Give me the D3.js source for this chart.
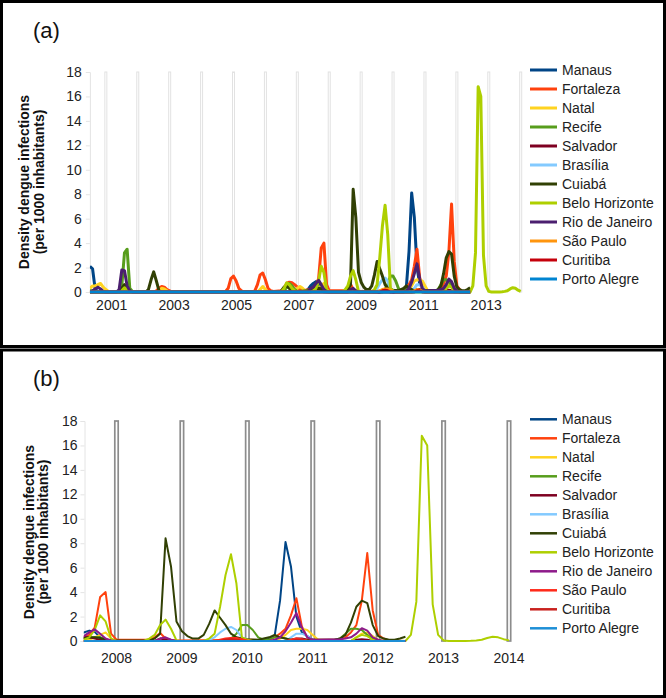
<!DOCTYPE html>
<html><head><meta charset="utf-8">
<script src="https://cdn.jsdelivr.net/npm/d3@7"></script>
<style>
body{margin:0;background:#fff}
svg{display:block}
text{font-family:"Liberation Sans",Arial,sans-serif}
</style>
</head><body>
<svg id="c" width="666" height="698"></svg>
<script>
// ---------------- DATA ----------------
// month index: 0 = first yearly marker (2001); series begin at month -6
const cities = ["Manaus","Fortaleza","Natal","Recife","Salvador","Brasília","Cuiabá","Belo Horizonte","Rio de Janeiro","São Paulo","Curitiba","Porto Alegre"];
const colorsA = ["#004586","#ff420e","#ffd320","#579d1c","#7e0021","#83caff","#314004","#aecf00","#4b1f6f","#ff950e","#c5000b","#0084d1"];
const colorsB = ["#004586","#ff420e","#ffd320","#579d1c","#7e0021","#83caff","#314004","#aecf00","#8e1a8a","#ff2a1a","#c9211e","#1e8fd6"];
const yTicks = [0,2,4,6,8,10,12,14,16,18];
const yearLabelsA = ["2001","2003","2005","2007","2009","2011","2013"];
const yearLabelsB = ["2008","2009","2010","2011","2012","2013","2014"];
const markerYearsA = [2001,2002,2003,2004,2005,2006,2007,2008,2009,2010,2011,2012,2013,2014];
const markerYearsB = [2008,2009,2010,2011,2012,2013,2014];
const markerValue = 18;

const manaus = [[-6,2.1],[-5,1.9],[-4,0.2],[-3,0.05],[-2,0],[74,0],[75,0.1],[76,0.2],[77,0.5],[78,0.7],[79,0.85],[80,0.75],[81,0.3],[82,0.1],[83,0],[111,0],[112,0.2],[113,0.4],[114,3.3],[115,8.1],[116,6.1],[117,2.0],[118,0.7],[119,0.4],[120,0.1],[121,0],[137,0]];
const fortaleza = [[-6,0],[18,0],[19,0.1],[20,0.3],[21,0.45],[22,0.4],[23,0.2],[24,0.1],[25,0],[44,0],[45,0.05],[46,0.3],[47,1.1],[48,1.3],[49,0.9],[50,0.3],[51,0.1],[52,0],[55,0],[56,0.1],[57,0.6],[58,1.4],[59,1.55],[60,1.0],[61,0.3],[62,0.1],[63,0.05],[66,0.1],[67,0.3],[68,0.7],[69,0.8],[70,0.75],[71,0.6],[72,0.4],[73,0.2],[74,0.1],[77,0.2],[78,0.3],[79,0.5],[80,1.1],[81,3.6],[82,4.0],[83,0.6],[84,0.1],[90,0.1],[91,0.3],[92,0.65],[93,0.2],[94,0.1],[95,0.05],[112,0.1],[113,0.3],[114,0.6],[115,1.0],[116,2.1],[117,3.5],[118,1.2],[119,0.3],[120,0.1],[125,0.1],[126,0.3],[127,0.7],[128,1.3],[129,3.3],[130,7.2],[131,2.5],[132,0.5],[133,0.2],[134,0.05],[137,0]];
const natal = [[-6,0.3],[-5,0.5],[-4,0.5],[-3,0.6],[-2,0.7],[-1,0.4],[0,0.2],[1,0.05],[2,0],[19,0],[20,0.1],[21,0.3],[22,0.25],[23,0.1],[24,0],[57,0],[58,0.2],[59,0.45],[60,0.2],[61,0],[70,0],[71,0.1],[72,0.3],[73,0.45],[74,0.3],[75,0.1],[79,0.1],[80,0.3],[81,0.5],[82,0.7],[83,0.2],[84,0],[113,0],[114,0.2],[115,0.5],[116,0.9],[117,1.0],[118,1.0],[119,0.9],[120,0.5],[121,0.1],[122,0],[127,0],[128,0.3],[129,0.6],[130,0.7],[131,0.4],[132,0.1],[133,0],[137,0]];
const recife = [[-6,0.1],[-4,0.1],[-3,0],[4,0],[5,0.1],[6,0.5],[7,3.2],[8,3.5],[9,0.3],[10,0.05],[11,0],[66,0],[67,0.1],[68,0.4],[69,0.7],[70,0.5],[71,0.2],[72,0.05],[77,0.1],[78,0.2],[79,0.25],[80,0.3],[81,0.3],[82,0.15],[83,0],[104,0],[105,0.2],[106,0.6],[107,1.3],[108,1.3],[109,0.9],[110,0.3],[111,0.1],[112,0.15],[113,0.3],[114,0.3],[115,0.2],[116,0.1],[117,0.05],[124,0.1],[125,0.2],[126,0.6],[127,1.0],[128,1.0],[129,0.9],[130,0.5],[131,0.2],[132,0.05],[137,0]];
const salvador = [[-6,0],[77,0],[78,0.3],[79,0.3],[80,0.2],[81,0.1],[82,0],[91,0],[92,0.2],[93,0.1],[94,0],[103,0],[104,0.1],[105,0.2],[106,0.2],[107,0.1],[108,0],[115,0],[116,0.1],[117,0.2],[118,0.2],[119,0.1],[120,0],[127,0],[128,0.1],[129,0.15],[130,0.1],[131,0],[137,0]];
const brasilia = [[-6,0],[100,0],[101,0.1],[102,0.3],[103,0.7],[104,1.0],[105,1.15],[106,0.9],[107,0.3],[108,0.1],[109,0],[115,0],[116,0.3],[117,0.6],[118,0.6],[119,0.4],[120,0.1],[121,0],[137,0]];
const cuiaba = [[-6,0],[5,0],[6,0.3],[7,0.6],[8,0.3],[9,0.1],[10,0],[15,0],[16,0.2],[17,1.0],[18,1.65],[19,0.9],[20,0.1],[21,0],[65,0],[66,0.1],[67,0.4],[68,0.5],[69,0.3],[70,0.1],[71,0],[77,0.1],[78,0.25],[79,0.3],[80,0.3],[81,0.25],[82,0.1],[83,0.05],[90,0.05],[91,0.2],[92,0.6],[93,8.4],[94,6.1],[95,1.6],[96,0.8],[97,0.4],[98,0.2],[99,0.2],[100,0.5],[101,1.4],[102,2.5],[103,1.9],[104,1.3],[105,0.6],[106,0.3],[107,0.2],[108,0.15],[110,0.1],[111,0.2],[112,0.3],[113,0.5],[114,0.3],[115,0.2],[116,0.1],[124,0.1],[125,0.2],[126,0.5],[127,1.5],[128,2.8],[129,3.3],[130,3.1],[131,1.3],[132,0.4],[133,0.2],[134,0.1],[135,0.1],[136,0.2],[137,0.35]];
const beloHorizonte = [[-6,0],[5,0],[6,0.1],[7,0.35],[8,0.2],[9,0],[66,0],[67,0.3],[68,0.75],[69,0.6],[70,0.3],[71,0.1],[72,0],[77,0],[78,0.1],[79,0.3],[80,0.9],[81,2.1],[82,1.6],[83,0.2],[84,0],[89,0],[90,0.2],[91,0.5],[92,1.3],[93,1.75],[94,1.0],[95,0.05],[96,0],[100,0],[101,0.2],[102,0.6],[103,2.8],[104,5.4],[105,7.1],[106,4.7],[107,0.3],[108,0.1],[109,0],[127,0],[128,0.3],[129,0.5],[130,0.4],[131,0.1],[132,0],[137,0],[138,0.5],[139,3.2],[140,16.8],[141,16.0],[142,3.0],[143,0.5],[144,0.05],[145,0],[148,0],[149,0.02],[150,0.05],[151,0.1],[152,0.25],[153,0.35],[154,0.3],[155,0.15],[156,0.05]];
const rioDeJaneiro = [[-6,0],[-5,0.1],[-4,0.25],[-3,0.4],[-2,0.25],[-1,0.05],[0,0],[4,0],[5,0.2],[6,1.8],[7,1.75],[8,0.5],[9,0.1],[10,0],[76,0],[77,0.3],[78,0.4],[79,0.7],[80,0.95],[81,0.6],[82,0.2],[83,0.05],[84,0],[91,0],[92,0.2],[93,0.3],[94,0.1],[95,0],[112,0],[113,0.1],[114,0.3],[115,0.8],[116,1.5],[117,2.3],[118,1.1],[119,0.3],[120,0.1],[121,0.1],[125,0.15],[126,0.2],[127,0.3],[128,0.6],[129,1.05],[130,0.85],[131,0.3],[132,0.1],[133,0],[137,0]];
const saoPaulo = [[-6,0],[102,0],[103,0.1],[104,0.2],[105,0.25],[106,0.25],[107,0.15],[108,0.05],[109,0],[115,0],[116,0.1],[117,0.2],[118,0.15],[119,0.05],[120,0],[137,0]];
const curitiba = [[-6,0],[103,0],[104,0.1],[105,0.15],[106,0.1],[107,0],[116,0],[117,0.1],[118,0.1],[119,0],[137,0]];
const portoAlegre = [[-6,0],[137,0]];
const seriesValues = [manaus,fortaleza,natal,recife,salvador,brasilia,cuiaba,beloHorizonte,rioDeJaneiro,saoPaulo,curitiba,portoAlegre];

// ---------------- DRAW ----------------
const svg = d3.select("#c");
svg.append("rect").attr("x",1.5).attr("y",1.5).attr("width",663).attr("height",345)
  .attr("fill","#fff").attr("stroke","#000").attr("stroke-width",3);
svg.append("rect").attr("x",1.5).attr("y",350).attr("width",663).attr("height",346.5)
  .attr("fill","#fff").attr("stroke","#000").attr("stroke-width",3);

function panel(cfg){
  const g = svg.append("g");
  const x = d3.scaleLinear().domain(cfg.xDomain).range(cfg.xRange);
  const y = d3.scaleLinear().domain([0,18]).range(cfg.yRange);
  const monthOf = yr => (yr-2001)*12;

  // panel letter
  g.append("text").attr("x",33).attr("y",cfg.letterY).attr("font-size",22).attr("fill","#111").text(cfg.letter);

  // y axis
  const ya = g.append("g").attr("transform",`translate(${cfg.axisX},0)`)
    .call(d3.axisLeft(y).tickValues(yTicks).tickSize(4).tickPadding(cfg.tickPad));
  ya.select(".domain").attr("stroke","#e4e4e4");
  ya.selectAll(".tick line").attr("stroke","#e4e4e4");
  ya.selectAll(".tick text").attr("font-size",14).attr("fill","#222")
    .attr("font-family",'"Liberation Sans",Arial,sans-serif');

  // y title
  const tl = g.append("g").attr("font-size",14).attr("font-weight","bold").attr("fill","#111").attr("text-anchor","middle");
  tl.append("text").attr("transform",`translate(${cfg.titleX[0]},${cfg.titleY}) rotate(-90)`).text("Density dengue infections");
  tl.append("text").attr("transform",`translate(${cfg.titleX[1]},${cfg.titleY}) rotate(-90)`).text("(per 1000 inhabitants)");

  // year markers (bars)
  g.append("g").selectAll("rect").data(cfg.markerYears).join("rect")
    .attr("x",d=>x(monthOf(d))-cfg.barW/2).attr("width",cfg.barW)
    .attr("y",y(markerValue)).attr("height",y(0)-y(markerValue))
    .attr("fill","#fff").attr("stroke",cfg.barStroke).attr("stroke-width",cfg.barSW);

  // x labels
  const xl = g.append("g").attr("font-size",14).attr("fill","#222").attr("text-anchor","middle");
  if(cfg.labelScale){
    xl.selectAll("text").data(cfg.yearLabels).join("text")
      .attr("x",d=>cfg.labelScale(d)).attr("y",cfg.labelY).text(d=>d);
  } else {
    xl.selectAll("text").data(cfg.yearLabels).join("text")
      .attr("x",d=>x(monthOf(+d))).attr("y",cfg.labelY).text(d=>d);
  }

  // clip
  const cid = "clip"+cfg.letter.replace(/\W/g,"");
  svg.append("clipPath").attr("id",cid).append("rect")
    .attr("x",x(cfg.xDomain[0])).attr("y",cfg.yRange[1]-10)
    .attr("width",x(cfg.xDomain[1])-x(cfg.xDomain[0])+2).attr("height",cfg.yRange[0]-cfg.yRange[1]+14);

  const line = d3.line().x(d=>x(d[0])).y(d=>y(d[1]));
  g.append("g").attr("clip-path",`url(#${cid})`).selectAll("path").data(seriesValues).join("path")
    .attr("d",line).attr("fill","none")
    .attr("stroke",(d,i)=>cfg.colors[i]).attr("stroke-width",cfg.lw)
    .attr("stroke-linejoin","round").attr("stroke-linecap","butt");

  // legend
  const lg = g.append("g");
  const rows = lg.selectAll("g").data(cities).join("g")
    .attr("transform",(d,i)=>`translate(0,${cfg.legendY + i*19})`);
  rows.append("line").attr("x1",530).attr("x2",557).attr("y1",0).attr("y2",0)
    .attr("stroke",(d,i)=>cfg.colors[i]).attr("stroke-width",cfg.legendSW);
  rows.append("text").attr("x",562).attr("y",5).attr("font-size",14).attr("fill","#222").text(d=>d);
}

panel({
  letter:"(a)", letterY:38,
  xDomain:[-6,156], xRange:[89.9,520.7], yRange:[292,72],
  axisX:89.9, tickPad:4,
  titleX:[29,44], titleY:182,
  markerYears:markerYearsA, barW:2, barStroke:"#e2e2e2", barSW:1,
  yearLabels:yearLabelsA,
  labelScale:d3.scalePoint().domain(yearLabelsA).range([111.7,486.2]),
  labelY:310,
  colors:colorsA, lw:3, legendY:70, legendSW:3
});

// panel (b): x range set so that markers 2008 and 2014 fall on their ticks
const xb = d3.scaleLinear().domain([84,156]).range([116.5,509]);
panel({
  letter:"(b)", letterY:386,
  xDomain:[78,156], xRange:[xb(78),xb(156)], yRange:[641,421],
  axisX:84.5, tickPad:3,
  titleX:[34,48], titleY:532,
  markerYears:markerYearsB, barW:3.4, barStroke:"#8c8c8c", barSW:1.7,
  yearLabels:yearLabelsB, labelScale:null,
  labelY:663,
  colors:colorsB, lw:2, legendY:419.3, legendSW:2.5
});
</script>
</body></html>
